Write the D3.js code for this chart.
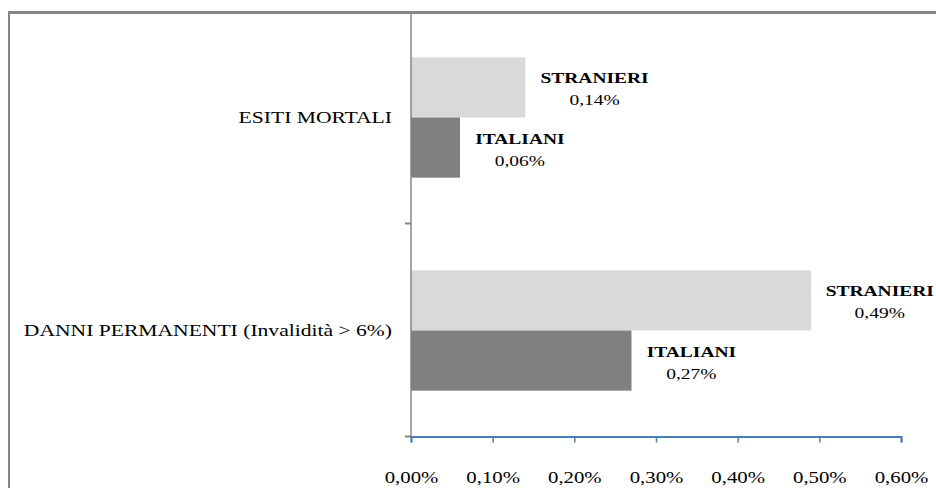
<!DOCTYPE html>
<html>
<head>
<meta charset="utf-8">
<script src="https://cdn.jsdelivr.net/npm/d3@7"></script>
<style>
  html, body { margin: 0; padding: 0; background: #fff; }
  svg { display: block; }
  text { font-family: "Liberation Serif", "Times New Roman", serif; fill: #000; }
</style>
</head>
<body>
<svg id="chart" width="936" height="488"></svg>
<script>
// Categories (top to bottom) and the two series, as fractions
const categories = ["ESITI MORTALI", "DANNI PERMANENTI (Invalidità > 6%)"];
const seriesNames = ["STRANIERI", "ITALIANI"];
const stranieri = [0.0014, 0.0049];
const italiani = [0.0006, 0.0027];
const xTicks = [0, 0.001, 0.002, 0.003, 0.004, 0.005, 0.006];

const seriesColors = { STRANIERI: "#d9d9d9", ITALIANI: "#808080" };
const rows = categories.map((c, i) => ({
  category: c,
  values: [
    { series: "STRANIERI", value: stranieri[i] },
    { series: "ITALIANI", value: italiani[i] }
  ]
}));

const itLocale = d3.formatLocale({ decimal: ",", thousands: ".", grouping: [3], currency: ["€", ""] });
const pct = itLocale.format(".2%");

const svg = d3.select("#chart");
const W = 936, H = 488;

// Outer frame (only top and left edges fall inside the canvas)
svg.append("line").attr("x1", 8).attr("x2", W).attr("y1", 12.5).attr("y2", 12.5)
  .attr("stroke", "#868686").attr("stroke-width", 3);
svg.append("line").attr("x1", 9).attr("x2", 9).attr("y1", 11).attr("y2", H)
  .attr("stroke", "#868686").attr("stroke-width", 2);

const plot = { left: 411, right: 901, top: 11, bottom: 437 };

const x = d3.scaleLinear().domain([0, 0.006]).range([plot.left, plot.right]);
const y = d3.scaleBand().domain(categories).range([plot.top, plot.bottom])
  .paddingInner(0.435).paddingOuter(0.2175);
const ySub = d3.scaleBand().domain(seriesNames).range([0, y.bandwidth()]);

// Text with a horizontal stretch, like the original rendering
function stretched(sel, sx) {
  return sel.attr("transform", function () {
    const t = d3.select(this);
    return `translate(${t.attr("data-x")},${t.attr("data-y")}) scale(${sx},1)`;
  });
}

// Bars
const groups = svg.append("g").selectAll("g").data(rows).join("g")
  .attr("transform", d => `translate(0,${y(d.category)})`);

groups.selectAll("rect").data(d => d.values).join("rect")
  .attr("x", x(0))
  .attr("y", d => ySub(d.series))
  .attr("width", d => x(d.value) - x(0))
  .attr("height", ySub.bandwidth())
  .attr("fill", d => seriesColors[d.series]);

// Bar labels: series name over value, block centred right of the bar end
const NAME_SX = 1.3, VAL_SX = 1.3;
groups.each(function (row) {
  const g = d3.select(this);
  row.values.forEach(v => {
    const cy = ySub(v.series) + ySub.bandwidth() / 2;
    const lab = g.append("g");
    const name = lab.append("text")
      .attr("text-anchor", "middle").attr("font-size", 15).attr("font-weight", "bold")
      .attr("data-x", 0).attr("data-y", cy - 4).text(v.series);
    stretched(name, NAME_SX);
    const val = lab.append("text")
      .attr("text-anchor", "middle").attr("font-size", 15)
      .attr("data-x", 0).attr("data-y", cy + 18).text(pct(v.value));
    stretched(val, VAL_SX);
    const w = Math.max(name.node().getBBox().width * NAME_SX, val.node().getBBox().width * VAL_SX);
    let cx = x(v.value) + 15 + w / 2;
    if (cx + w / 2 > W - 2) cx = W - 2 - w / 2;
    lab.attr("transform", `translate(${cx},0)`);
  });
});

// Category axis (left)
svg.append("line").attr("x1", plot.left).attr("x2", plot.left)
  .attr("y1", 14).attr("y2", plot.bottom)
  .attr("stroke", "#868686").attr("stroke-width", 1.5);
const boundaries = d3.range(categories.length + 1).map(i => plot.top + i * y.step());
svg.append("g").selectAll("line").data(boundaries.slice(1)).join("line")
  .attr("x1", plot.left - 6).attr("x2", plot.left)
  .attr("y1", d => Math.round(d) - 0.5).attr("y2", d => Math.round(d) - 0.5)
  .attr("stroke", "#868686").attr("stroke-width", 2);

svg.append("g").selectAll("text").data(categories).join("text")
  .attr("text-anchor", "end").attr("font-size", 17)
  .attr("data-x", plot.left - 19)
  .attr("data-y", d => y(d) + y.bandwidth() / 2 + 5)
  .text(d => d)
  .call(s => stretched(s, 1.27));

// Value axis (bottom)
const xAxis = d3.axisBottom(x).tickValues(xTicks).tickFormat(pct).tickSize(6).tickPadding(14);
const ax = svg.append("g").attr("transform", `translate(0,${plot.bottom - 0.5})`).call(xAxis);
ax.select(".domain").attr("stroke", "#4a7ebb").attr("stroke-width", 2);
ax.selectAll(".tick line").attr("stroke", "#4a7ebb").attr("stroke-width", 1.5);
ax.selectAll(".tick text")
  .attr("font-family", "\"Liberation Serif\", \"Times New Roman\", serif")
  .attr("font-size", 16).attr("fill", "#000")
  .attr("dy", null)
  .attr("data-x", 0).attr("data-y", 46)
  .call(s => stretched(s, 1.3))
  .attr("y", null);
</script>
</body>
</html>
